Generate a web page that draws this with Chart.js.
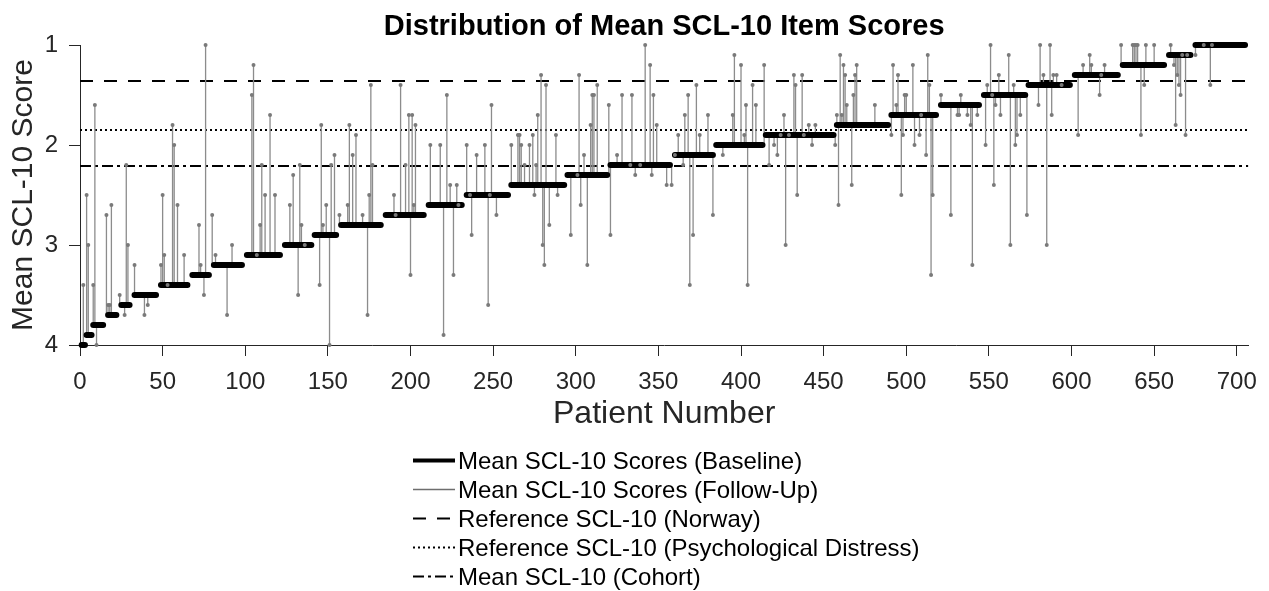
<!DOCTYPE html>
<html>
<head>
<meta charset="utf-8">
<script src="https://cdn.jsdelivr.net/npm/chart.js@4.4.1/dist/chart.umd.min.js"></script>
<style>
	html, body { margin: 0; padding: 0; background: #fff; }
	#wrap { position: relative; width: 1269px; height: 591px; }
	#legend { position: absolute; left: 413px; top: 446px; font: 24px "Liberation Sans", Arial, sans-serif; color: #000; }
	#legend .row { height: 29px; display: flex; align-items: center; white-space: nowrap; }
	#legend svg { margin-right: 3px; flex: none; }
</style>
</head>
<body>
<div id="wrap">
	<canvas id="myChart" width="1269" height="591"></canvas>
	<div id="legend"></div>
</div>
<script>
// baseline: one score level per group of patients (sorted by baseline score)
var baseLevels = [4.0, 3.9, 3.8, 3.7, 3.6, 3.5, 3.4, 3.3, 3.2, 3.1, 3.0, 2.9, 2.8, 2.7, 2.6, 2.5,
	2.4, 2.3, 2.2, 2.1, 2.0, 1.9, 1.8, 1.7, 1.6, 1.5, 1.4, 1.3, 1.2, 1.1, 1.0];
var baseStart = [1, 4, 8, 17, 25, 33, 49, 68, 81, 101, 124, 142, 158, 185, 211, 234,
	261, 295, 321, 360, 385, 415, 458, 491, 521, 547, 574, 602, 631, 659, 675];
var baseEnd = [3, 7, 14, 22, 30, 46, 65, 78, 98, 121, 140, 155, 182, 208, 231, 259,
	293, 319, 357, 383, 413, 456, 489, 518, 544, 572, 599, 628, 656, 672, 705];

// follow-up scores (patient number, mean score)
var followPatient = [2, 4, 5, 8, 9, 10, 16, 17, 18, 19, 24, 27, 28, 29, 33, 39, 41, 49, 50, 51,
	53, 56, 57, 59, 63, 72, 73, 75, 76, 80, 82, 89, 92, 104, 105, 107, 109, 110, 112, 115,
	118, 127, 129, 132, 133, 134, 136, 145, 146, 147, 149, 151, 152, 154, 157, 162, 163, 165, 167, 171,
	174, 175, 176, 177, 190, 191, 194, 197, 199, 200, 201, 202, 203, 212, 218, 220, 222, 224, 226, 228,
	229, 234, 236, 237, 240, 245, 247, 248, 249, 252, 261, 265, 266, 267, 269, 272, 274, 275, 276, 277,
	279, 280, 281, 282, 284, 288, 289, 297, 301, 302, 303, 305, 307, 309, 310, 311, 313, 320, 321, 325,
	328, 333, 334, 336, 339, 342, 345, 346, 347, 349, 355, 358, 360, 362, 365, 366, 368, 369, 371, 373,
	375, 380, 383, 389, 395, 396, 400, 402, 403, 404, 407, 409, 414, 417, 420, 422, 424, 426, 427, 429,
	432, 433, 434, 437, 438, 441, 443, 445, 457, 458, 459, 460, 461, 462, 463, 464, 467, 468, 469, 470,
	481, 491, 492, 494, 495, 497, 498, 499, 500, 504, 505, 508, 509, 512, 513, 514, 515, 516, 521, 527,
	531, 532, 533, 537, 539, 540, 543, 548, 549, 551, 552, 553, 554, 556, 557, 562, 563, 565, 566, 567,
	569, 573, 580, 581, 583, 585, 587, 588, 589, 591, 594, 604, 607, 611, 612, 617, 618, 620, 630, 637,
	638, 639, 640, 642, 644, 645, 650, 660, 662, 663, 664, 665, 666, 667, 669, 670, 675, 680, 684, 685];
var followScore = [3.4, 2.5, 3.0, 3.4, 1.6, 4.0, 2.7, 3.6, 3.6, 2.6, 3.5, 3.7, 2.2, 3.0, 3.2, 3.7, 3.6, 3.2, 2.5, 3.1,
	3.4, 1.8, 2.0, 2.6, 3.1, 2.8, 3.2, 3.5, 1.0, 2.7, 3.1, 3.7, 3.0, 1.5, 1.2, 3.1, 2.8, 2.2, 2.5, 1.7,
	2.5, 2.6, 2.3, 3.5, 2.2, 2.8, 3.0, 3.4, 1.8, 2.8, 2.6, 4.0, 2.2, 2.1, 2.7, 2.6, 1.8, 2.1, 1.9, 2.7,
	3.7, 2.5, 1.4, 2.2, 2.5, 2.7, 1.4, 2.2, 1.7, 3.3, 1.7, 2.6, 1.8, 2.0, 2.0, 3.9, 1.5, 2.4, 3.3, 2.4,
	2.6, 2.0, 2.5, 2.9, 2.1, 2.0, 3.6, 2.5, 1.6, 2.7, 2.0, 1.9, 1.9, 2.0, 2.2, 2.0, 1.9, 2.5, 2.2, 1.7,
	1.3, 3.0, 3.2, 1.4, 2.8, 1.9, 2.5, 2.9, 2.3, 1.3, 2.6, 2.1, 3.2, 1.8, 1.5, 1.5, 1.4, 1.6, 2.9, 2.1,
	1.5, 2.2, 1.5, 2.3, 2.2, 1.0, 1.2, 2.3, 1.5, 1.8, 2.4, 2.4, 2.1, 1.9, 2.2, 1.7, 1.5, 3.4, 2.9, 1.4,
	1.9, 1.7, 2.7, 2.1, 1.7, 1.1, 1.2, 1.9, 1.6, 3.4, 1.4, 1.6, 1.2, 2.2, 2.0, 2.1, 1.9, 1.7, 3.0, 1.9,
	1.3, 1.4, 2.5, 1.3, 1.9, 1.8, 2.0, 1.8, 2.0, 1.7, 2.6, 1.1, 1.7, 1.2, 1.3, 1.6, 2.4, 1.5, 1.3, 1.2,
	1.6, 1.9, 1.2, 1.6, 1.3, 2.5, 1.9, 1.5, 1.5, 1.2, 2.0, 1.9, 1.7, 2.1, 1.1, 1.4, 3.3, 2.5, 1.5, 2.7,
	1.7, 1.7, 1.5, 1.7, 1.8, 3.2, 1.7, 2.0, 1.4, 1.0, 1.5, 2.4, 1.6, 1.3, 1.7, 1.1, 3.0, 1.4, 2.0, 1.9,
	1.7, 2.7, 1.6, 1.0, 1.3, 3.0, 1.0, 1.7, 1.3, 1.3, 1.4, 1.9, 1.2, 1.1, 1.2, 1.5, 1.3, 1.2, 1.0, 1.0,
	1.0, 1.0, 1.0, 1.9, 1.4, 1.0, 1.0, 1.0, 1.2, 1.8, 1.3, 1.4, 1.5, 1.1, 1.9, 1.1, 1.1, 1.0, 1.4, 1.0];

// reference values
var refNorway = 1.36;
var refDistress = 1.85;
var cohortMean = 2.21;
var xMax = 707;

var axisColor = '#262626';
var font = '"Liberation Sans", Arial, Helvetica, sans-serif';

function baselineAt(p) {
	var best = 0, bestD = Infinity;
	for (var i = 0; i < baseLevels.length; i++) {
		var d = p < baseStart[i] ? baseStart[i] - p : (p > baseEnd[i] ? p - baseEnd[i] : 0);
		if (d < bestD) { bestD = d; best = i; }
	}
	return baseLevels[best];
}

var baselineData = [];
for (var i = 0; i < baseLevels.length; i++) {
	baselineData.push({x: baseStart[i], y: baseLevels[i]});
	baselineData.push({x: baseEnd[i], y: baseLevels[i]});
	baselineData.push({x: baseEnd[i], y: null});
}

// each follow-up is a vertical stroke from the patient's baseline to the follow-up score
var followData = [];
var followDots = [];
for (var j = 0; j < followPatient.length; j++) {
	followData.push({x: followPatient[j], y: baselineAt(followPatient[j])});
	followData.push({x: followPatient[j], y: followScore[j]});
	followData.push({x: followPatient[j], y: null});
	followDots.push({x: followPatient[j], y: followScore[j]});
}

function refLine(v) { return [{x: 0, y: v}, {x: xMax, y: v}]; }

Chart.defaults.font.family = font;
Chart.defaults.color = axisColor;

var myChart = new Chart(document.getElementById("myChart"), {
	type: 'scatter',
	data: {
		datasets: [{
			label: "Mean SCL-10 Scores (Follow-Up)",
			showLine: true,
			borderColor: '#8c8c8c',
			borderWidth: 1.3,
			pointRadius: 0,
			data: followData,
			clip: false,
			order: 2
		}, {
			label: "Mean SCL-10 Scores (Baseline)",
			showLine: true,
			borderColor: '#000',
			borderWidth: 6,
			borderCapStyle: 'round',
			pointRadius: 0,
			data: baselineData,
			clip: false,
			order: 1
		}, {
			label: "Reference SCL-10 (Norway)",
			showLine: true,
			borderColor: '#000',
			borderWidth: 2,
			borderDash: [13, 11],
			pointRadius: 0,
			data: refLine(refNorway),
			order: 3
		}, {
			label: "Reference SCL-10 (Psychological Distress)",
			showLine: true,
			borderColor: '#000',
			borderWidth: 2,
			borderDash: [2, 3],
			pointRadius: 0,
			data: refLine(refDistress),
			order: 3
		}, {
			label: "Mean SCL-10 (Cohort)",
			showLine: true,
			borderColor: '#000',
			borderWidth: 2,
			borderDash: [11, 4, 3, 4],
			pointRadius: 0,
			data: refLine(cohortMean),
			order: 3
		}, {
			label: "follow-up markers",
			showLine: false,
			pointRadius: 2,
			pointBackgroundColor: '#7a7a7a',
			pointBorderWidth: 0,
			data: followDots,
			clip: false,
			order: 0
		}]
	},
	options: {
		responsive: false,
		animation: false,
		devicePixelRatio: 1,
		layout: {
			padding: {left: 0, right: 19, top: 0, bottom: 156}
		},
		plugins: {
			legend: { display: false },
			tooltip: { enabled: false },
			title: {
				display: true,
				text: 'Distribution of Mean SCL-10 Item Scores',
				color: '#000',
				fullSize: false,
				font: { size: 29, weight: 'bold' },
				padding: { top: 9.5, bottom: 0.7 }
			}
		},
		scales: {
			x: {
				type: 'linear',
				min: 0,
				max: xMax,
				afterFit: function(scale) { scale.height = 90; },
				ticks: {
					stepSize: 50,
					includeBounds: false,
					padding: 12,
					color: axisColor,
					font: { size: 24 },
					maxRotation: 0
				},
				grid: {
					drawOnChartArea: false,
					drawTicks: true,
					tickLength: 11,
					color: axisColor
				},
				border: { display: true, color: axisColor, width: 1 },
				title: {
					display: true,
					text: 'Patient Number',
					color: axisColor,
					font: { size: 32 },
					padding: { top: 0, bottom: 2 }
				}
			},
			y: {
				type: 'linear',
				reverse: true,
				min: 1,
				max: 4,
				afterFit: function(scale) { scale.width = 80; },
				ticks: {
					stepSize: 1,
					padding: 11,
					color: axisColor,
					font: { size: 24 }
				},
				grid: {
					drawOnChartArea: false,
					drawTicks: true,
					tickLength: 11,
					color: axisColor
				},
				border: { display: true, color: axisColor, width: 1 },
				title: {
					display: true,
					text: 'Mean SCL-10 Score',
					color: axisColor,
					font: { size: 30 },
					padding: { top: 6, bottom: 0 }
				}
			}
		}
	}
});

// legend, one item per row, in the order of the original figure
var legendOrder = [1, 0, 2, 3, 4];
var legendBox = document.getElementById('legend');
legendOrder.forEach(function(k) {
	var ds = myChart.data.datasets[k];
	var row = document.createElement('div');
	row.className = 'row';
	var w = Math.min(ds.borderWidth, 4);
	var dash = ds.borderDash ? ds.borderDash.join(' ') : 'none';
	var color = k === 0 ? '#6e6e6e' : ds.borderColor;
	row.innerHTML = '<svg width="42" height="29"><line x1="0" y1="14.5" x2="42" y2="14.5" stroke="' + color +
		'" stroke-width="' + w + '" stroke-dasharray="' + dash + '"/></svg><span>' + ds.label + '</span>';
	legendBox.appendChild(row);
});
</script>
</body>
</html>
